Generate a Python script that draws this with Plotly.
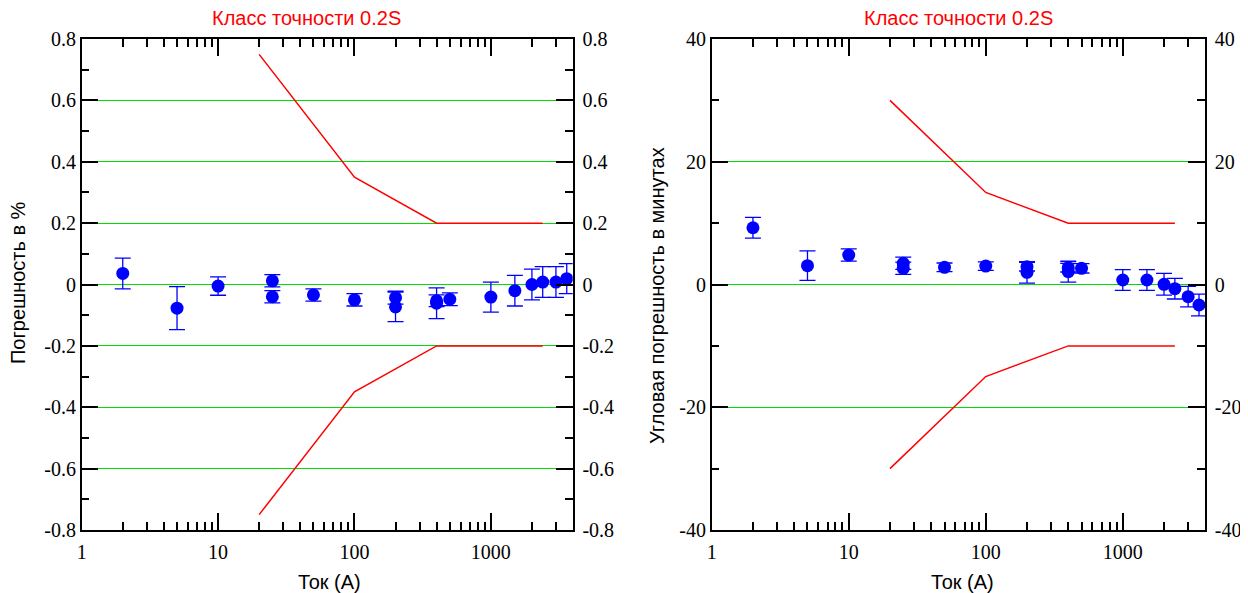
import plotly.graph_objects as go

# ---- data ----
current = [2, 5, 10, 25, 25, 50, 100, 200, 200, 400, 400, 500, 1000, 1500, 2000, 2400, 3000, 3600]
ratio_err = [0.036, -0.077, -0.005, 0.012, -0.040, -0.034, -0.050, -0.043, -0.073, -0.053, -0.061,
             -0.048, -0.041, -0.020, 0.000, 0.008, 0.008, 0.019]
ratio_unc = [0.05, 0.07, 0.03, 0.02, 0.02, 0.02, 0.02, 0.021, 0.048, 0.019, 0.05,
             0.021, 0.049, 0.05, 0.05, 0.05, 0.05, 0.049]
phase_err = [9.25, 3.07, 4.8, 3.45, 2.64, 2.8, 3.0, 2.9, 1.98, 2.74, 2.09,
             2.63, 0.73, 0.73, 0.03, -0.68, -1.98, -3.34]
phase_unc = [1.7, 2.4, 1.0, 1.0, 1.0, 0.7, 0.7, 0.7, 1.74, 0.7, 1.7,
             0.76, 1.68, 1.68, 1.77, 1.68, 1.68, 1.77]
limit_current = [20, 100, 400, 2400]
limit_ratio = [0.75, 0.35, 0.2, 0.2]
limit_phase = [30, 15, 10, 10]

x_major = [1, 10, 100, 1000]
x_major_text = ["1", "10", "100", "1000"]
x_minor = [m * d for d in (1, 10, 100, 1000) for m in range(2, 10) if m * d < 4000]
left_ticks = [-0.8, -0.6, -0.4, -0.2, 0, 0.2, 0.4, 0.6, 0.8]
left_ticktext = ["-0.8", "-0.6", "-0.4", "-0.2", "0", "0.2", "0.4", "0.6", "0.8"]
right_ticks = [-40, -20, 0, 20, 40]
right_ticktext = ["-40", "-20", "0", "20", "40"]

title_text = "Класс точности 0.2S"
xlabel = "Ток (А)"
ylabel_left = "Погрешность в %"
ylabel_right = "Угловая погрешность в минутах"

# page is rendered with an 8px body margin; figure sized so it ends at the window edge
OFF = 8
W, H = 1248 - OFF, 593 - OFF
BLUE = "#0000ff"
RED = "#ff0000"
GREEN = "#00dd00"
SERIF = "Liberation Serif"
SANS = "Liberation Sans"

def fx(px):
    return (px - OFF) / W

def fy(py):
    return 1 - (py - OFF) / H

fig = go.Figure()

def add_panel(xa, ya, vals, uncs, lim):
    fig.add_trace(go.Scatter(x=limit_current, y=lim, mode="lines",
                             line=dict(color=RED, width=1.5), xaxis=xa, yaxis=ya,
                             showlegend=False, hoverinfo="skip"))
    fig.add_trace(go.Scatter(x=limit_current, y=[-v for v in lim], mode="lines",
                             line=dict(color=RED, width=1.5), xaxis=xa, yaxis=ya,
                             showlegend=False, hoverinfo="skip"))
    fig.add_trace(go.Scatter(x=current, y=vals, mode="markers",
                             marker=dict(color=BLUE, size=13),
                             error_y=dict(type="data", array=uncs, visible=True,
                                          color=BLUE, thickness=1.3, width=8),
                             xaxis=xa, yaxis=ya, showlegend=False))

add_panel("x", "y", ratio_err, ratio_unc, limit_ratio)
add_panel("x2", "y2", phase_err, phase_unc, limit_phase)

dom_y = [fy(530), fy(39)]
dom_x1 = [fx(81.7), fx(572.7)]
dom_x2 = [fx(711.7), fx(1205)]

def xaxis_cfg(dom, anchor):
    return dict(domain=dom, anchor=anchor, type="log", range=[0, 3.6], automargin=False,
                tickmode="array", tickvals=x_major, ticktext=x_major_text,
                ticks="inside", ticklen=17, tickwidth=1.5, tickcolor="black",
                showline=True, linecolor="black", linewidth=1.5, mirror="ticks",
                showgrid=False, zeroline=False,
                tickfont=dict(family=SERIF, size=20, color="black"),
                ticklabelstandoff=3,
                minor=dict(tickmode="array", tickvals=x_minor, ticks="inside",
                           ticklen=8, tickwidth=1.5, tickcolor="black", showgrid=False))

def yaxis_cfg(dom, anchor, rng, tv, tt, mdt, side="left", overlay=None, grid=True):
    d = dict(domain=dom, anchor=anchor, range=rng, tickmode="array", tickvals=tv, ticktext=tt,
             automargin=False,
             ticks="inside", ticklen=17, tickwidth=1.5, tickcolor="black",
             showline=True, linecolor="black", linewidth=1.5, mirror=False,
             showgrid=grid, gridcolor=GREEN, gridwidth=1, zeroline=False, side=side,
             tickfont=dict(family=SERIF, size=20, color="black"),
             ticklabelstandoff=0 if side == "left" else 4,
             minor=dict(dtick=mdt, tick0=0, ticks="inside", ticklen=8, tickwidth=1.5,
                        tickcolor="black", showgrid=False))
    if overlay:
        d["overlaying"] = overlay
    return d

fig.update_layout(
    width=W, height=H, autosize=False,
    margin=dict(l=0, r=0, t=0, b=0, pad=0, autoexpand=False),
    paper_bgcolor="white", plot_bgcolor="white",
    xaxis=xaxis_cfg(dom_x1, "y"),
    xaxis2=xaxis_cfg(dom_x2, "y2"),
    yaxis=yaxis_cfg(dom_y, "x", [-0.8, 0.8], left_ticks, left_ticktext, 0.1),
    yaxis2=yaxis_cfg(dom_y, "x2", [-40, 40], right_ticks, right_ticktext, 10),
    yaxis3=yaxis_cfg(dom_y, "x", [-0.8, 0.8], left_ticks, left_ticktext, 0.1,
                     side="right", overlay="y", grid=False),
    yaxis4=yaxis_cfg(dom_y, "x2", [-40, 40], right_ticks, right_ticktext, 10,
                     side="right", overlay="y2", grid=False),
)

# invisible traces so the right-hand label axes are drawn
fig.add_trace(go.Scatter(x=[1], y=[0], xaxis="x", yaxis="y3", mode="markers",
                         marker=dict(opacity=0), showlegend=False, hoverinfo="skip"))
fig.add_trace(go.Scatter(x=[1], y=[0], xaxis="x2", yaxis="y4", mode="markers",
                         marker=dict(opacity=0), showlegend=False, hoverinfo="skip"))

def ann(text, xpx, ypx, size=20, color="black", angle=0):
    fig.add_annotation(text=text, x=fx(xpx), y=fy(ypx), xref="paper", yref="paper",
                       showarrow=False, textangle=angle, xanchor="center", yanchor="middle",
                       font=dict(family=SANS, size=size, color=color))

ann(title_text, 306, 18, color=RED)
ann(title_text, 958, 18, color=RED)
ann(xlabel, 329, 582)
ann(xlabel, 962, 582)
ann(ylabel_left, 18, 283, angle=-90)
ann(ylabel_right, 657, 296, angle=-90)

fig.write_html("out.html")
